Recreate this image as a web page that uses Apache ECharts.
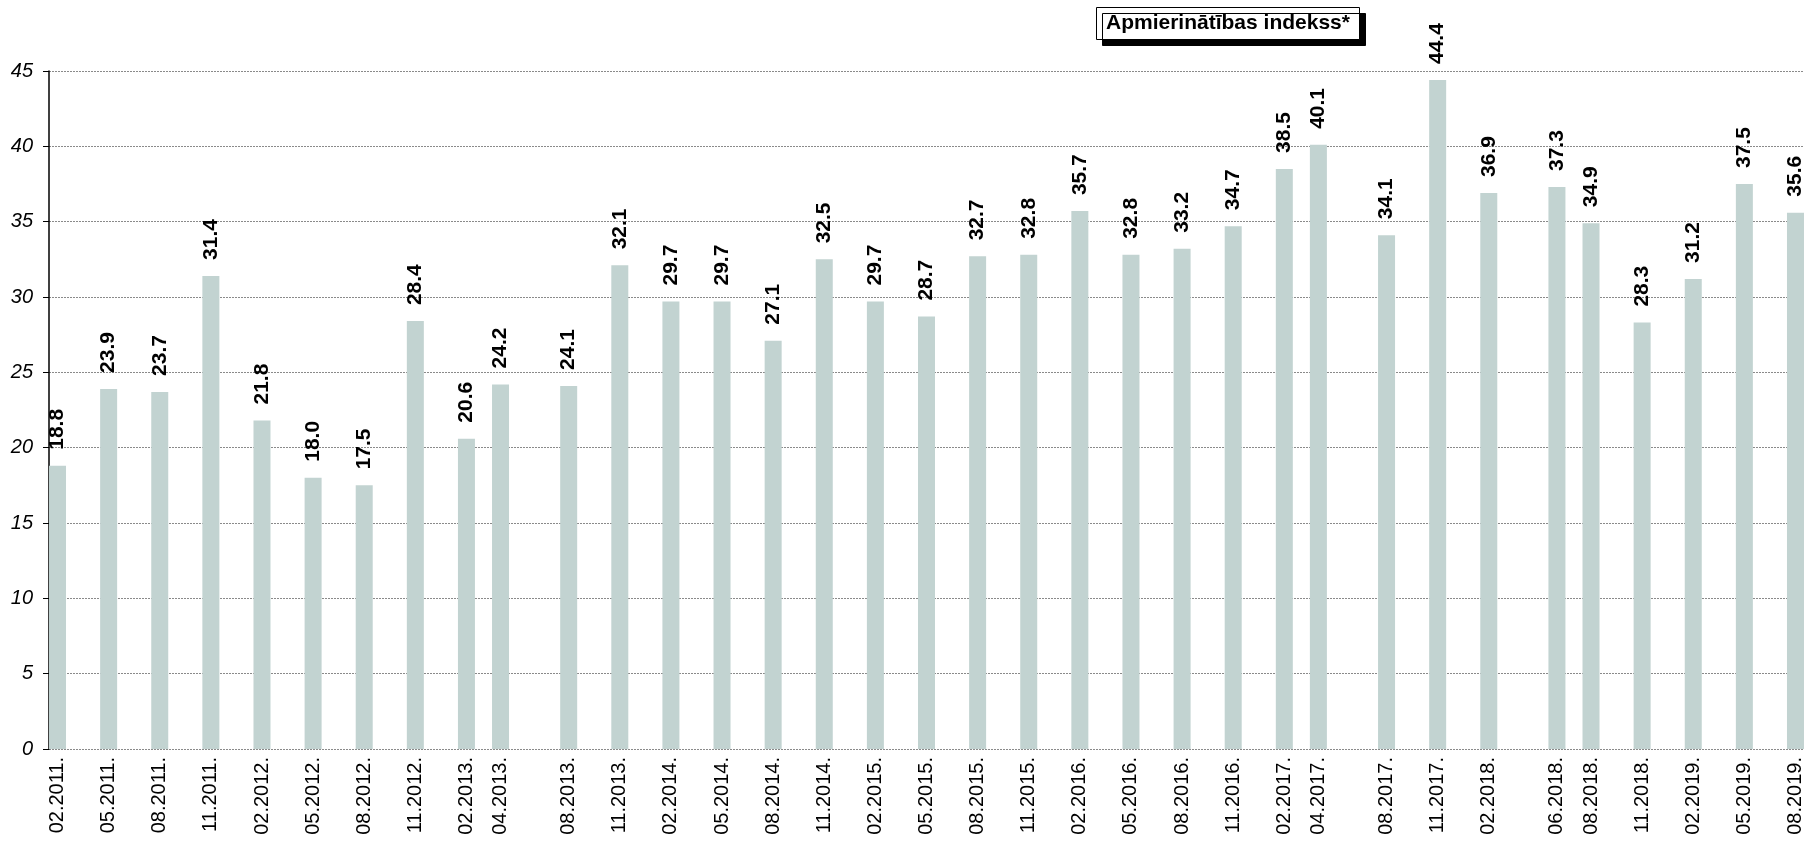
<!DOCTYPE html>
<html>
<head>
<meta charset="utf-8">
<script src="https://cdn.jsdelivr.net/npm/echarts@6/dist/echarts.min.js"></script>
<style>
html,body{margin:0;padding:0;background:#fff;}
#chart{width:1811px;height:841px;}
</style>
</head>
<body>
<div id="chart"></div>
<script>
var titleText = 'Apmierinātības indekss*';
var dates = ['02.2011.','05.2011.','08.2011.','11.2011.','02.2012.','05.2012.','08.2012.','11.2012.',
  '02.2013.','04.2013.','08.2013.','11.2013.','02.2014.','05.2014.','08.2014.','11.2014.',
  '02.2015.','05.2015.','08.2015.','11.2015.','02.2016.','05.2016.','08.2016.','11.2016.',
  '02.2017.','04.2017.','08.2017.','11.2017.','02.2018.','06.2018.','08.2018.','11.2018.',
  '02.2019.','05.2019.','08.2019.'];
var values = [18.8,23.9,23.7,31.4,21.8,18.0,17.5,28.4,
  20.6,24.2,24.1,32.1,29.7,29.7,27.1,32.5,
  29.7,28.7,32.7,32.8,35.7,32.8,33.2,34.7,
  38.5,40.1,34.1,44.4,36.9,37.3,34.9,28.3,
  31.2,37.5,35.6];
var yTicks = {min:0, max:45, interval:5};

// Build a monthly category axis from the first to the last date
function parse(d){ var p=d.split('.'); return {m:+p[0], y:+p[1]}; }
var first = parse(dates[0]), last = parse(dates[dates.length-1]);
var months = [], monthVals = [], hasData = [];
var lookup = {};
dates.forEach(function(d,i){ lookup[d]=values[i]; });
var y=first.y, m=first.m;
while (y<last.y || (y===last.y && m<=last.m)) {
  var key = (m<10?'0':'')+m+'.'+y+'.';
  months.push(key);
  if (lookup.hasOwnProperty(key)) { monthVals.push(lookup[key]); hasData.push(true); }
  else { monthVals.push(null); hasData.push(false); }
  m++; if (m>12){m=1;y++;}
}

var font = '"Liberation Sans", Arial, sans-serif';
var chart = echarts.init(document.getElementById('chart'), null, {renderer:'canvas'});
chart.setOption({
  animation:false,
  backgroundColor:'#fff',
  title:{
    text:titleText,
    left:1096, top:7,
    padding:[5,10,5,10],
    backgroundColor:'#fff',
    borderColor:'#000', borderWidth:1,
    shadowColor:'#000', shadowBlur:0, shadowOffsetX:6, shadowOffsetY:6,
    textStyle:{fontFamily:font, fontSize:21, fontWeight:'bold', color:'#000', lineHeight:23}
  },
  grid:{left:49, right:7, top:71, bottom:92, containLabel:false},
  xAxis:{
    type:'category',
    data:months,
    boundaryGap:true,
    axisLine:{show:false},
    axisTick:{show:false},
    splitLine:{show:false},
    axisLabel:{
      rotate:90, margin:8, fontFamily:font, fontSize:20, color:'#000',
      interval:function(idx){ return hasData[idx]; }
    }
  },
  yAxis:{
    type:'value',
    min:yTicks.min, max:yTicks.max, interval:yTicks.interval,
    axisLine:{show:true, lineStyle:{color:'#000', width:1.5}},
    axisTick:{show:true, length:6, lineStyle:{color:'#000'}},
    splitLine:{show:true, lineStyle:{color:'#8a8a8a', type:[2,1], width:1}},
    axisLabel:{margin:16, fontFamily:font, fontSize:20, fontStyle:'italic', color:'#000'}
  },
  series:[{
    type:'bar',
    data:monthVals,
    barWidth:17,
    itemStyle:{color:'#c2d3d1'},
    label:{
      show:true, position:'top', rotate:90, align:'left', verticalAlign:'middle',
      distance:16, fontFamily:font, fontSize:21, fontWeight:'bold', color:'#000',
      formatter:function(p){ return p.value==null?'':Number(p.value).toFixed(1); }
    }
  }]
});
</script>
</body>
</html>
